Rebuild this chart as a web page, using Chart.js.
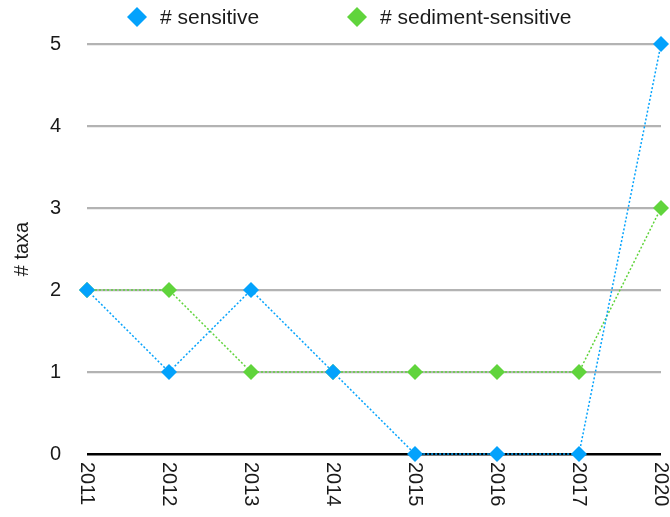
<!DOCTYPE html>
<html>
<head>
<meta charset="utf-8">
<script src="https://cdn.jsdelivr.net/npm/chart.js@4/dist/chart.umd.min.js"></script>
<style>
  html, body { margin: 0; padding: 0; background: #ffffff; }
  #wrap { width: 670px; height: 517px; position: relative; }
</style>
</head>
<body>
<div id="wrap"><canvas id="chart"></canvas></div>
<script>
// Survey years
const years = ['2011', '2012', '2013', '2014', '2015', '2016', '2017', '2020'];
// Number of sensitive taxa per year
const sensitive = [2, 1, 2, 1, 0, 0, 0, 5];
// Number of sediment-sensitive taxa per year
const sedimentSensitive = [2, 2, 1, 1, 1, 1, 1, 3];
// Y axis ticks
const yTicks = [0, 1, 2, 3, 4, 5];

const seriesNames = ['# sensitive', '# sediment-sensitive'];
const blue = '#03a2fc';
const green = '#60d43c';
const FONT = '"Liberation Sans", Arial, Helvetica, sans-serif';
const FSIZE = 20;

// Year labels rotated clockwise, plus a simple top legend
const customLabels = {
  id: 'customLabels',
  afterDraw(chart) {
    const ctx = chart.ctx;
    const xs = chart.scales.x;
    ctx.save();
    ctx.fillStyle = '#1a1a1a';
    ctx.font = FSIZE + 'px ' + FONT;
    ctx.textAlign = 'left';
    ctx.textBaseline = 'middle';
    years.forEach((lab, i) => {
      const px = xs.getPixelForTick(i);
      ctx.save();
      ctx.translate(px, 462);
      ctx.rotate(Math.PI / 2);
      ctx.fillText(lab, 0, 0);
      ctx.restore();
    });

    // legend
    const items = [
      { name: seriesNames[0], color: blue, mx: 137, tx: 160 },
      { name: seriesNames[1], color: green, mx: 357, tx: 380 }
    ];
    const ly = 17;
    ctx.font = '21px ' + FONT;
    items.forEach(it => {
      ctx.fillStyle = it.color;
      ctx.beginPath();
      ctx.moveTo(it.mx - 10, ly);
      ctx.lineTo(it.mx, ly - 10);
      ctx.lineTo(it.mx + 10, ly);
      ctx.lineTo(it.mx, ly + 10);
      ctx.closePath();
      ctx.fill();
      ctx.fillStyle = '#1a1a1a';
      ctx.textAlign = 'left';
      ctx.textBaseline = 'middle';
      ctx.fillText(it.name, it.tx, ly + 1);
    });
    ctx.restore();
  }
};

new Chart(document.getElementById('chart'), {
  type: 'line',
  data: {
    labels: years,
    datasets: [
      {
        label: seriesNames[0],
        data: sensitive,
        borderColor: blue,
        backgroundColor: blue,
        borderWidth: 1.5,
        borderDash: [2, 2],
        pointStyle: 'rectRot',
        pointRadius: 8,
        pointHoverRadius: 8,
        pointBackgroundColor: blue,
        pointBorderWidth: 0,
        tension: 0,
        clip: false
      },
      {
        label: seriesNames[1],
        data: sedimentSensitive,
        borderColor: green,
        backgroundColor: green,
        borderWidth: 1.5,
        borderDash: [2, 2],
        pointStyle: 'rectRot',
        pointRadius: 8,
        pointHoverRadius: 8,
        pointBackgroundColor: green,
        pointBorderWidth: 0,
        tension: 0,
        clip: false
      }
    ]
  },
  options: {
    responsive: true,
    maintainAspectRatio: false,
    animation: false,
    layout: { padding: { top: 44, right: 9, bottom: 0, left: 0 } },
    plugins: {
      legend: { display: false },
      tooltip: { enabled: false }
    },
    scales: {
      x: {
        type: 'category',
        offset: false,
        grid: { display: false },
        border: { display: false },
        ticks: { display: false },
        afterFit(scale) { scale.height = 63; }
      },
      y: {
        min: 0,
        max: 5,
        afterBuildTicks(scale) { scale.ticks = yTicks.map(v => ({ value: v })); },
        grid: {
          drawTicks: false,
          color: ctx => ctx.tick && ctx.tick.value === 0 ? '#000000' : '#b3b3b3',
          lineWidth: ctx => ctx.tick && ctx.tick.value === 0 ? 2.5 : 2.2
        },
        border: { display: false },
        ticks: {
          color: '#1a1a1a',
          font: { family: FONT, size: FSIZE },
          padding: 26
        },
        title: {
          display: true,
          text: '# taxa',
          color: '#1a1a1a',
          font: { family: FONT, size: 20 },
          padding: { top: 10, bottom: 0 }
        },
        afterFit(scale) { scale.width = 87; }
      }
    }
  },
  plugins: [customLabels]
});
</script>
</body>
</html>
